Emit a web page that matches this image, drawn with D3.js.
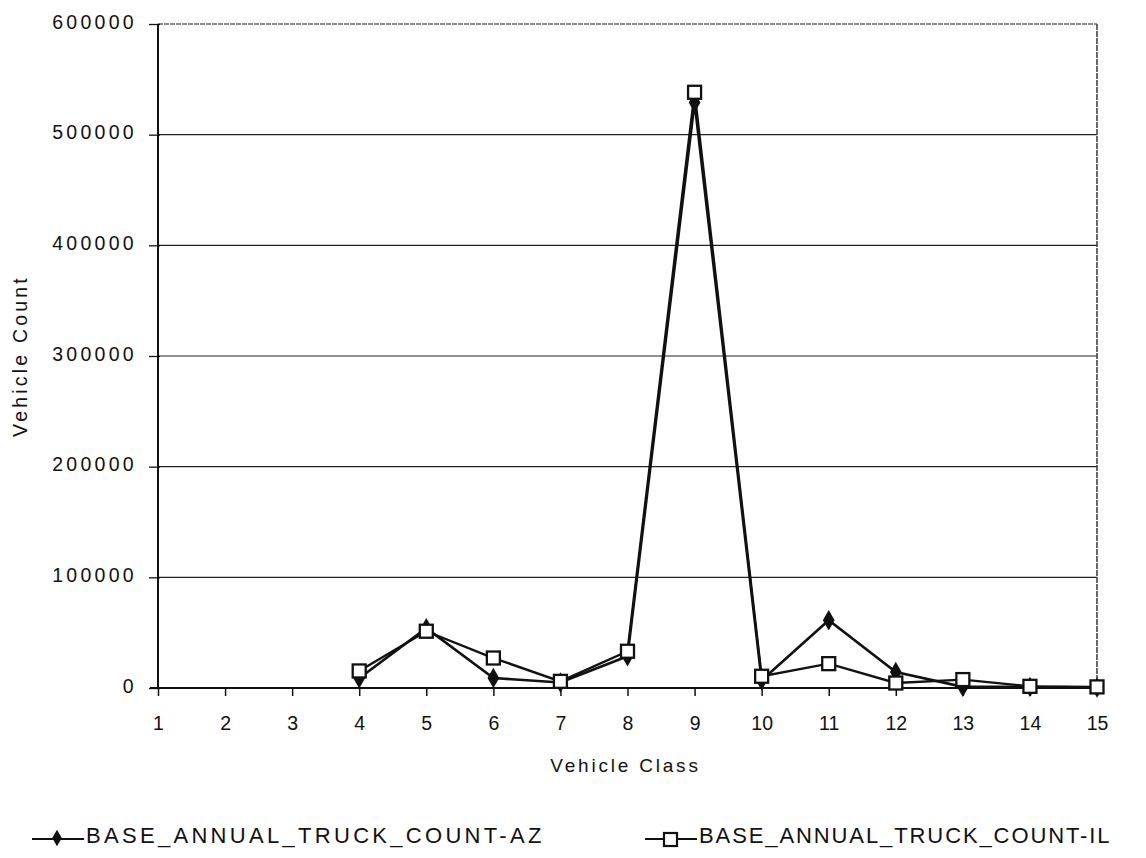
<!DOCTYPE html>
<html>
<head>
<meta charset="utf-8">
<script src="https://cdn.jsdelivr.net/npm/d3@7"></script>
<style>
  html, body { margin: 0; padding: 0; background: #fff; }
  svg { display: block; }
  text { font-family: "Liberation Sans", Arial, sans-serif; fill: #111; }
</style>
</head>
<body>
<svg id="chart" width="1146" height="858"></svg>
<script>
// Vehicle classes 1..15 (FHWA scheme)
const vehicleClasses = [1, 2, 3, 4, 5, 6, 7, 8, 9, 10, 11, 12, 13, 14, 15];

// Annual truck counts by class; classes 1-3 are not counted
const countAZ = [null, null, null, 8800, 54000, 9000, 5000, 28700, 529000, 7000, 61200, 14500, 1000, 1000, 500];
const countIL = [null, null, null, 15400, 51300, 27100, 6000, 33200, 538300, 10600, 22000, 4500, 7600, 1500, 1000];

const yTickValues = [0, 100000, 200000, 300000, 400000, 500000, 600000];

const seriesNames = ["BASE_ANNUAL_TRUCK_COUNT-AZ", "BASE_ANNUAL_TRUCK_COUNT-IL"];

const svg = d3.select("#chart");
const plot = { left: 158, right: 1097, top: 24, bottom: 688 };

const x = d3.scaleLinear().domain([1, 15]).range([plot.left, plot.right]);
const y = d3.scaleLinear().domain([0, 600000]).range([plot.bottom, plot.top]);

const FONT = "'Liberation Sans', Arial, sans-serif";

// horizontal gridlines
svg.append("g")
  .selectAll("line")
  .data(yTickValues.filter(v => v > 0 && v < 600000))
  .join("line")
  .attr("x1", plot.left).attr("x2", plot.right)
  .attr("y1", d => y(d)).attr("y2", d => y(d))
  .attr("stroke", "#222").attr("stroke-width", 1.1);

// plot frame: top and right edges
svg.append("path")
  .attr("d", `M${plot.left},${plot.top}H${plot.right}`)
  .attr("fill", "none").attr("stroke", "#666").attr("stroke-width", 1.4)
  .attr("stroke-dasharray", "5,1");
svg.append("path")
  .attr("d", `M${plot.right},${plot.top}V${plot.bottom}`)
  .attr("fill", "none").attr("stroke", "#444").attr("stroke-width", 1.6)
  .attr("stroke-dasharray", "6,1");

// y axis
const yAxis = d3.axisLeft(y).tickValues(yTickValues).tickSize(8).tickPadding(13)
  .tickFormat(d3.format("d"));
const gy = svg.append("g").attr("transform", `translate(${plot.left},0)`).call(yAxis);
gy.select(".domain").attr("stroke", "#111").attr("stroke-width", 2)
  .attr("d", `M0,${plot.top}V${plot.bottom}`);
gy.selectAll(".tick line").attr("stroke", "#111").attr("stroke-width", 1.3)
  .attr("x1", 2).attr("x2", -9);
gy.selectAll(".tick text")
  .style("font-size", "19.5px").style("letter-spacing", "3.3px")
  .style("font-family", FONT)
  .attr("fill", "#111").attr("dy", "0.22em");

// x axis
const xAxis = d3.axisBottom(x).tickValues(vehicleClasses).tickSize(8).tickPadding(20)
  .tickFormat(d3.format("d"));
const gx = svg.append("g").attr("transform", `translate(0,${plot.bottom})`).call(xAxis);
gx.select(".domain").attr("stroke", "#111").attr("stroke-width", 2)
  .attr("d", `M${plot.left - 8},0H${plot.right}`);
gx.selectAll(".tick line").attr("stroke", "#111").attr("stroke-width", 1.5);
gx.selectAll(".tick text")
  .style("font-size", "19.5px")
  .style("font-family", FONT)
  .attr("fill", "#111");

// axis titles
svg.append("text")
  .attr("x", (plot.left + plot.right) / 2 - 2).attr("y", 772)
  .attr("text-anchor", "middle")
  .style("font-size", "19px").style("letter-spacing", "2.8px")
  .text("Vehicle Class");

svg.append("text")
  .attr("transform", `translate(27,${(plot.top + plot.bottom) / 2}) rotate(-90)`)
  .attr("text-anchor", "middle")
  .style("font-size", "19.5px").style("letter-spacing", "3.2px")
  .text("Vehicle Count");

// series lines
const line = d3.line()
  .defined(d => d.v != null)
  .x(d => x(d.c)).y(d => y(d.v));

const azData = vehicleClasses.map((c, i) => ({ c, v: countAZ[i] }));
const ilData = vehicleClasses.map((c, i) => ({ c, v: countIL[i] }));

svg.append("path").datum(azData).attr("d", line)
  .attr("fill", "none").attr("stroke", "#111").attr("stroke-width", 2.6);
svg.append("path").datum(ilData).attr("d", line)
  .attr("fill", "none").attr("stroke", "#111").attr("stroke-width", 2.4);

// AZ markers: filled diamonds
const diamond = d3.symbol().type(d3.symbolDiamond).size(120);
svg.append("g").selectAll("path")
  .data(azData.filter(d => d.v != null))
  .join("path")
  .attr("transform", d => `translate(${x(d.c)},${y(d.v)})`)
  .attr("d", diamond)
  .attr("fill", "#111");

// IL markers: hollow squares
const sq = 13;
svg.append("g").selectAll("rect")
  .data(ilData.filter(d => d.v != null))
  .join("rect")
  .attr("x", d => x(d.c) - sq / 2).attr("y", d => y(d.v) - sq / 2)
  .attr("width", sq).attr("height", sq)
  .attr("fill", "#fff").attr("stroke", "#111").attr("stroke-width", 2.3);

// legend
const legendY = 839;
const legend = [
  { name: seriesNames[0], x0: 32, type: "diamond", spacing: 3.3 },
  { name: seriesNames[1], x0: 645, type: "square", spacing: 1.9 }
];
legend.forEach(item => {
  const g = svg.append("g");
  g.append("line")
    .attr("x1", item.x0).attr("x2", item.x0 + 52)
    .attr("y1", legendY).attr("y2", legendY)
    .attr("stroke", "#111").attr("stroke-width", 2.2);
  if (item.type === "diamond") {
    g.append("path")
      .attr("transform", `translate(${item.x0 + 25},${legendY - 1})`)
      .attr("d", d3.symbol().type(d3.symbolDiamond).size(80))
      .attr("fill", "#111");
  } else {
    g.append("rect")
      .attr("x", item.x0 + 19).attr("y", legendY - 6)
      .attr("width", 13).attr("height", 13)
      .attr("fill", "#fff").attr("stroke", "#111").attr("stroke-width", 2.2);
  }
  g.append("text")
    .attr("x", item.x0 + 54).attr("y", legendY + 4)
    .style("font-size", "22px").style("letter-spacing", item.spacing + "px")
    .text(item.name);
});
</script>
</body>
</html>
